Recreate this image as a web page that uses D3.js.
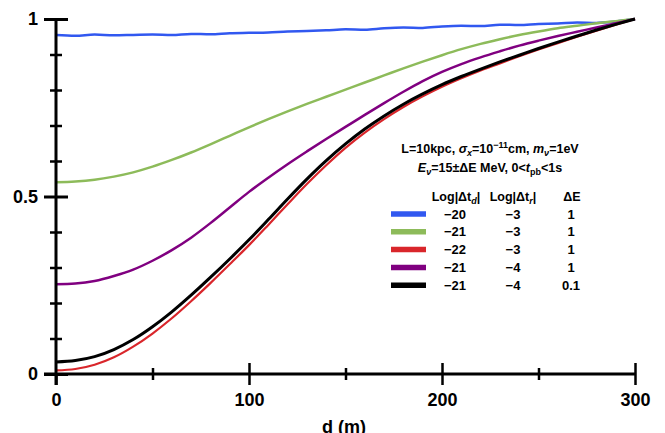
<!DOCTYPE html>
<html><head><meta charset="utf-8">
<script src="https://cdn.jsdelivr.net/npm/d3@7"></script>
<style>
body{margin:0;background:#fff;}
text{font-family:"Liberation Sans",Arial,sans-serif;font-weight:bold;fill:#000;}
</style></head>
<body><svg id="c" width="665" height="433"></svg>
<script>
const dVals = [0,10,20,30,40,50,60,70,80,90,100,110,120,130,140,150,160,170,180,190,200,210,220,230,240,250,260,270,280,290,300];
const blueVals   = [.955,.953,.956,.954,.955,.956,.955,.958,.957,.960,.961,.962,.965,.966,.968,.971,.970,.974,.976,.975,.979,.981,.980,.984,.983,.986,.987,.990,.989,.993,1.0];
const greenVals  = [.540,.542,.547,.556,.568,.584,.603,.624,.647,.671,.695,.718,.740,.761,.781,.801,.821,.841,.861,.880,.898,.915,.930,.943,.955,.965,.974,.981,.988,.994,1.0];
const redVals    = [.010,.014,.026,.047,.077,.114,.157,.205,.256,.309,.363,.420,.478,.535,.588,.637,.680,.718,.752,.782,.809,.833,.855,.875,.895,.914,.932,.950,.967,.984,1.0];
const purpleVals = [.253,.255,.262,.276,.294,.319,.349,.384,.425,.469,.513,.553,.591,.627,.662,.696,.730,.763,.795,.825,.851,.873,.892,.909,.925,.939,.952,.964,.976,.988,1.0];
const blackVals  = [.034,.038,.049,.069,.097,.133,.175,.222,.272,.324,.378,.435,.493,.549,.601,.648,.690,.727,.760,.789,.815,.838,.859,.879,.898,.917,.935,.952,.969,.985,1.0];

const seriesNames = ["blue","green","red","purple","black"];
const seriesColors = ["#3158f0","#8dbb5a","#d9262b","#800080","#000000"];
const logTd = ["\u221220","\u221221","\u221222","\u221221","\u221221"];
const logTr = ["\u22123","\u22123","\u22123","\u22124","\u22124"];
const dE = ["1","1","1","1","0.1"];
const xTicks = [0,100,200,300];
const xMinor = [50,150,250];
const yTicks = [0,0.5,1];
const yTickLabels = ["0","0.5","1"];
const yMinor = [0.1,0.2,0.3,0.4,0.6,0.7,0.8,0.9];

const svg = d3.select("#c");
const x = d3.scaleLinear().domain([0,300]).range([56,635]);
const y = d3.scaleLinear().domain([0,1]).range([374,19]);

const valsByName = {blue:blueVals, green:greenVals, red:redVals, purple:purpleVals, black:blackVals};
const widths = {blue:2.5, green:2.5, red:2.2, purple:2.5, black:3};
const line = d3.line().x((v,i)=>x(dVals[i])).y(v=>y(v)).curve(d3.curveMonotoneX);
["blue","green","purple","red","black"].forEach(n=>{
  const i = seriesNames.indexOf(n);
  svg.append("path").attr("d", line(valsByName[n])).attr("fill","none")
    .attr("stroke", seriesColors[i]).attr("stroke-width", widths[n]).attr("stroke-linejoin","round");
});

// X axis
const gx = svg.append("g").attr("transform",`translate(0,${y(0)})`);
gx.call(d3.axisBottom(x).tickValues(xTicks).tickFormat(d3.format("d")).tickSize(11).tickPadding(8));
gx.selectAll(".tick line").attr("y1",d=>d===0?0:-11).attr("stroke-width",2.5);
gx.select(".domain").remove();
gx.append("line").attr("x1",44).attr("x2",x(300)).attr("stroke","#000").attr("stroke-width",3);
const gxm = svg.append("g").attr("transform",`translate(0,${y(0)})`);
gxm.call(d3.axisBottom(x).tickValues(xMinor).tickFormat("").tickSize(6));
gxm.select(".domain").remove();
gxm.selectAll(".tick line").attr("y1",-6).attr("stroke-width",2.5);
gx.selectAll("text").style("font-size","18px").style("font-family","Liberation Sans, Arial, sans-serif").style("font-weight","bold");

// Y axis
const gy = svg.append("g").attr("transform",`translate(${x(0)},0)`);
gy.call(d3.axisLeft(y).tickValues(yTicks).tickFormat((d,i)=>yTickLabels[i]).tickSize(12).tickPadding(6));
gy.select(".domain").remove();
gy.selectAll(".tick line").attr("x1",12).attr("stroke-width",3);
gy.append("line").attr("y1",y(1)).attr("y2",385).attr("stroke","#000").attr("stroke-width",3);
gy.selectAll("text").style("font-size","18px").style("font-family","Liberation Sans, Arial, sans-serif").style("font-weight","bold");
const gym = svg.append("g").attr("transform",`translate(${x(0)},0)`);
gym.call(d3.axisLeft(y).tickValues(yMinor).tickFormat("").tickSize(6));
gym.select(".domain").remove();
gym.selectAll(".tick line").attr("x1",6).attr("stroke-width",2.5);

svg.append("text").attr("x",344).attr("y",433).attr("text-anchor","middle").style("font-size","18px").text("d (m)");

// annotation
const t1 = svg.append("text").attr("x",490).attr("y",153).attr("text-anchor","middle").style("font-size","12.5px");
t1.append("tspan").text("L=10kpc, ");
t1.append("tspan").style("font-style","italic").text("\u03c3");
t1.append("tspan").style("font-style","italic").style("font-size","9px").attr("dy",3).text("x");
t1.append("tspan").attr("dy",-3).text("=10");
t1.append("tspan").style("font-size","9px").attr("dy",-5).text("\u221211");
t1.append("tspan").attr("dy",5).text("cm, ");
t1.append("tspan").style("font-style","italic").text("m");
t1.append("tspan").style("font-style","italic").style("font-size","9px").attr("dy",3).text("\u03bd");
t1.append("tspan").attr("dy",-3).text("=1eV");

const t2 = svg.append("text").attr("x",490).attr("y",172).attr("text-anchor","middle").style("font-size","12.5px");
t2.append("tspan").style("font-style","italic").text("E");
t2.append("tspan").style("font-style","italic").style("font-size","9px").attr("dy",3).text("\u03bd");
t2.append("tspan").attr("dy",-3).text("=15\u00b1\u0394E MeV, 0<");
t2.append("tspan").style("font-style","italic").text("t");
t2.append("tspan").style("font-size","9px").attr("dy",3).text("pb");
t2.append("tspan").attr("dy",-3).text("<1s");

// legend headers
const h1 = svg.append("text").attr("x",456).attr("y",201).attr("text-anchor","middle").style("font-size","12.5px");
h1.append("tspan").text("Log|\u0394t");
h1.append("tspan").style("font-style","italic").style("font-size","9px").attr("dy",3).text("d");
h1.append("tspan").attr("dy",-3).text("|");
const h2 = svg.append("text").attr("x",513).attr("y",201).attr("text-anchor","middle").style("font-size","12.5px");
h2.append("tspan").text("Log|\u0394t");
h2.append("tspan").style("font-style","italic").style("font-size","9px").attr("dy",3).text("r");
h2.append("tspan").attr("dy",-3).text("|");
svg.append("text").attr("x",572).attr("y",201).attr("text-anchor","middle").style("font-size","12.5px").text("\u0394E");

const rowY = i => 214 + i*17.8;
seriesNames.forEach((n,i)=>{
  svg.append("line").attr("x1",391).attr("x2",426).attr("y1",rowY(i)).attr("y2",rowY(i))
    .attr("stroke",seriesColors[i]).attr("stroke-width",5.5);
  svg.append("text").attr("x",455).attr("y",rowY(i)+4.5).attr("text-anchor","middle").style("font-size","13px").text(logTd[i]);
  svg.append("text").attr("x",513).attr("y",rowY(i)+4.5).attr("text-anchor","middle").style("font-size","13px").text(logTr[i]);
  svg.append("text").attr("x",571).attr("y",rowY(i)+4.5).attr("text-anchor","middle").style("font-size","13px").text(dE[i]);
});
</script></body></html>
